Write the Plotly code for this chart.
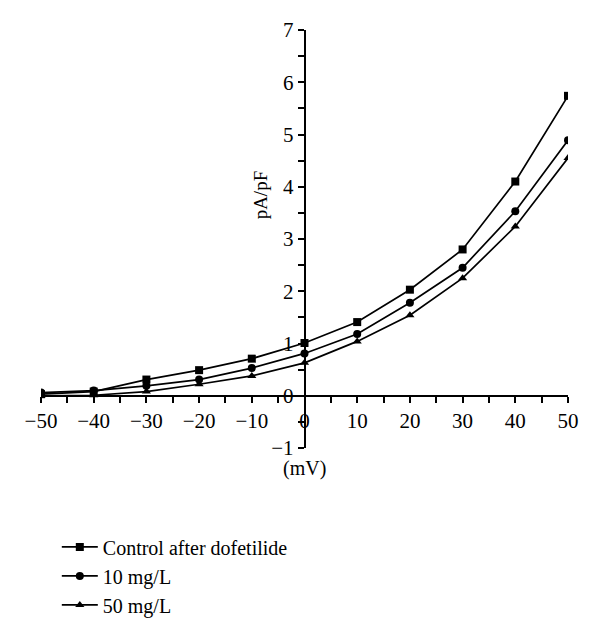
import plotly.graph_objects as go

voltage = [-50, -40, -30, -20, -10, 0, 10, 20, 30, 40, 50]
control = [0.03, 0.08, 0.31, 0.49, 0.71, 1.01, 1.41, 2.03, 2.80, 4.10, 5.74]
mg10 = [0.06, 0.10, 0.19, 0.31, 0.53, 0.81, 1.18, 1.78, 2.45, 3.53, 4.89]
mg50 = [0.0, 0.01, 0.08, 0.22, 0.38, 0.63, 1.04, 1.54, 2.25, 3.24, 4.55]
names = ["Control after dofetilide", "10 mg/L", "50 mg/L"]
symbols = ["square", "circle", "triangle-up"]

FONT = "Liberation Serif"
fig = go.Figure()
for name, ys, sym in zip(names, [control, mg10, mg50], symbols):
    fig.add_trace(go.Scatter(
        x=voltage, y=ys, name=name, mode="lines+markers",
        line=dict(color="black", width=1.7),
        marker=dict(symbol=sym, size=8, color="black"),
    ))

tickstyle = dict(ticks="outside", ticklen=6, tickwidth=1.5, tickcolor="black")
fig.update_layout(
    width=592, height=620,
    margin=dict(l=33, r=32, t=22, b=180, autoexpand=False),
    paper_bgcolor="white", plot_bgcolor="white",
    font=dict(family=FONT, size=19, color="black"),
    showlegend=True,
    legend=dict(x=0.03, y=-0.19, xanchor="left", yanchor="top",
                font=dict(family=FONT, size=20), tracegroupgap=0,
                itemwidth=36, bgcolor="rgba(0,0,0,0)"),
    xaxis=dict(range=[-50, 50], anchor="free", position=0.125,
               showgrid=False, zeroline=False, showline=True,
               linecolor="black", linewidth=1.5,
               dtick=10, tick0=0, **tickstyle,
               minor=dict(dtick=5, **tickstyle),
               tickfont=dict(family=FONT, size=21)),
    yaxis=dict(range=[-1, 7], anchor="free", position=0.5,
               showgrid=False, zeroline=False, showline=True,
               linecolor="black", linewidth=1.5,
               dtick=1, tick0=0, **tickstyle,
               minor=dict(dtick=0.5, **tickstyle),
               tickfont=dict(family=FONT, size=21)),
    annotations=[
        dict(text="pA/pF", x=-8.3, y=3.85, xref="x", yref="y", textangle=-90,
             showarrow=False, font=dict(family=FONT, size=19)),
        dict(text="(mV)", x=0, y=-0.05, xref="x", yref="paper", yanchor="middle",
             showarrow=False, font=dict(family=FONT, size=20)),
    ],
)
fig.write_html("out.html")
